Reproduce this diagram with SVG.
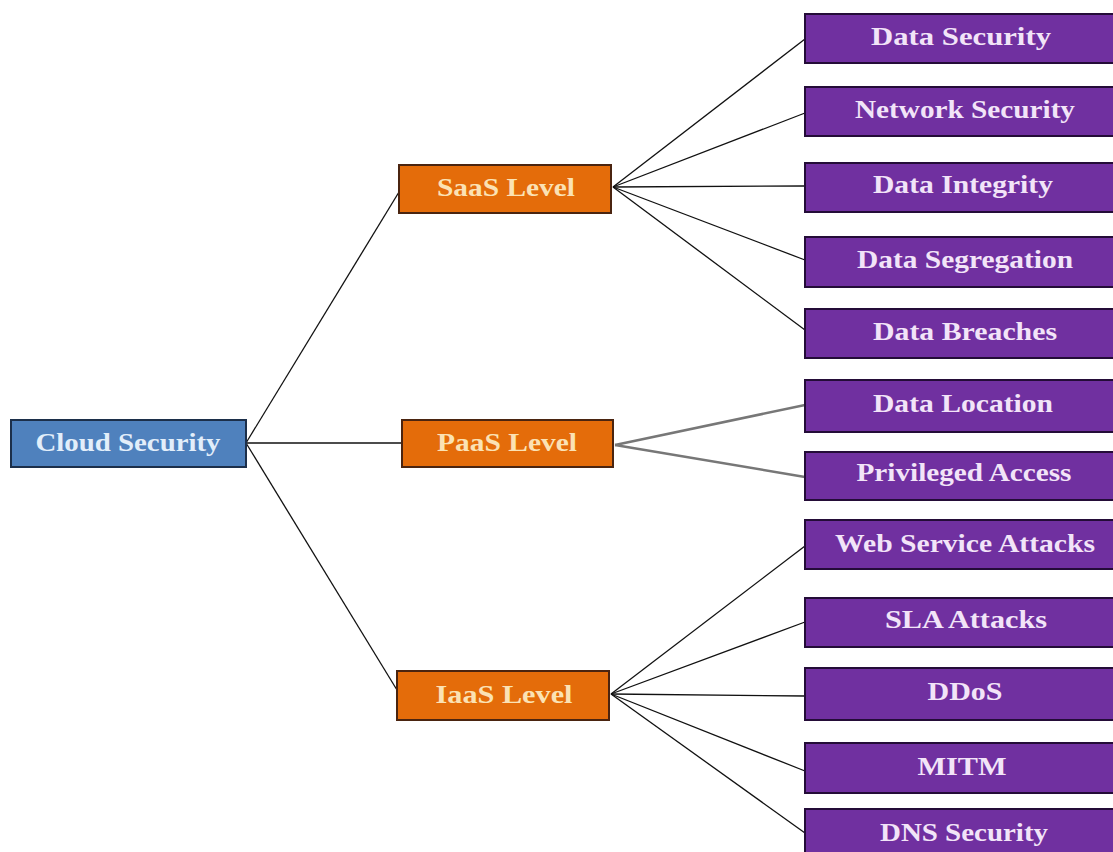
<svg xmlns="http://www.w3.org/2000/svg" width="1113" height="852" viewBox="0 0 1113 852">
<style>
.t{font-family:"Liberation Serif","Times New Roman",serif;font-weight:bold;font-size:25px;text-anchor:middle}
.blue rect{fill:#4f81bd;stroke:#1c2f4a;stroke-width:2}
.blue text{fill:#e2eefa}
.orange rect{fill:#e46c0a;stroke:#4a2410;stroke-width:2}
.orange text{fill:#fbe2b4}
.purple rect{fill:#7030a0;stroke:#240c38;stroke-width:2}
.purple text{fill:#f2e4f8}
.c line{stroke:#111;stroke-width:1.3}
.c line.g{stroke:#777;stroke-width:2.5}
</style>
<rect width="1113" height="852" fill="#ffffff"/>
<g id="connectors" class="c">
<line x1="246" y1="443" x2="399" y2="192"/>
<line x1="246" y1="443" x2="402" y2="443"/>
<line x1="246" y1="443" x2="397" y2="690"/>
<line x1="613" y1="187" x2="805" y2="39"/>
<line x1="613" y1="187" x2="805" y2="113"/>
<line x1="613" y1="187" x2="805" y2="186"/>
<line x1="613" y1="187" x2="805" y2="260"/>
<line x1="613" y1="187" x2="805" y2="330"/>
<line class="g" x1="615" y1="445" x2="805" y2="405"/>
<line class="g" x1="615" y1="445" x2="805" y2="477"/>
<line x1="611" y1="694" x2="805" y2="546"/>
<line x1="611" y1="694" x2="805" y2="622"/>
<line x1="611" y1="694" x2="805" y2="696"/>
<line x1="611" y1="694" x2="805" y2="771"/>
<line x1="611" y1="694" x2="805" y2="833"/>
</g>
<g id="cloud-security" class="blue"><rect x="11" y="420" width="235" height="47"/><text class="t" x="128" y="451" textLength="185" lengthAdjust="spacingAndGlyphs">Cloud Security</text></g>
<g id="saas-level" class="orange"><rect x="399" y="165" width="212" height="48"/><text class="t" x="506" y="196" textLength="138" lengthAdjust="spacingAndGlyphs">SaaS Level</text></g>
<g id="paas-level" class="orange"><rect x="402" y="420" width="211" height="47"/><text class="t" x="507" y="451" textLength="140" lengthAdjust="spacingAndGlyphs">PaaS Level</text></g>
<g id="iaas-level" class="orange"><rect x="397" y="671" width="212" height="49"/><text class="t" x="504" y="703" textLength="137" lengthAdjust="spacingAndGlyphs">IaaS Level</text></g>
<g id="data-security" class="purple"><rect x="805" y="14" width="314" height="49"/><text class="t" x="961" y="45" textLength="180" lengthAdjust="spacingAndGlyphs">Data Security</text></g>
<g id="network-security" class="purple"><rect x="805" y="87" width="314" height="49"/><text class="t" x="965" y="118" textLength="220" lengthAdjust="spacingAndGlyphs">Network Security</text></g>
<g id="data-integrity" class="purple"><rect x="805" y="163" width="314" height="49"/><text class="t" x="963" y="193" textLength="180" lengthAdjust="spacingAndGlyphs">Data Integrity</text></g>
<g id="data-segregation" class="purple"><rect x="805" y="237" width="314" height="50"/><text class="t" x="965" y="268" textLength="216" lengthAdjust="spacingAndGlyphs">Data Segregation</text></g>
<g id="data-breaches" class="purple"><rect x="805" y="309" width="314" height="49"/><text class="t" x="965" y="340" textLength="184" lengthAdjust="spacingAndGlyphs">Data Breaches</text></g>
<g id="data-location" class="purple"><rect x="805" y="380" width="314" height="52"/><text class="t" x="963" y="412" textLength="180" lengthAdjust="spacingAndGlyphs">Data Location</text></g>
<g id="privileged-access" class="purple"><rect x="805" y="452" width="314" height="48"/><text class="t" x="964" y="481" textLength="215" lengthAdjust="spacingAndGlyphs">Privileged Access</text></g>
<g id="web-service-attacks" class="purple"><rect x="805" y="520" width="314" height="49"/><text class="t" x="965" y="552" textLength="260" lengthAdjust="spacingAndGlyphs">Web Service Attacks</text></g>
<g id="sla-attacks" class="purple"><rect x="805" y="598" width="314" height="49"/><text class="t" x="966" y="628" textLength="162" lengthAdjust="spacingAndGlyphs">SLA Attacks</text></g>
<g id="ddos" class="purple"><rect x="805" y="668" width="314" height="52"/><text class="t" x="965" y="700" textLength="75" lengthAdjust="spacingAndGlyphs">DDoS</text></g>
<g id="mitm" class="purple"><rect x="805" y="743" width="314" height="50"/><text class="t" x="962" y="775" textLength="89" lengthAdjust="spacingAndGlyphs">MITM</text></g>
<g id="dns-security" class="purple"><rect x="805" y="809" width="314" height="50"/><text class="t" x="964" y="841" textLength="168" lengthAdjust="spacingAndGlyphs">DNS Security</text></g>
</svg>
